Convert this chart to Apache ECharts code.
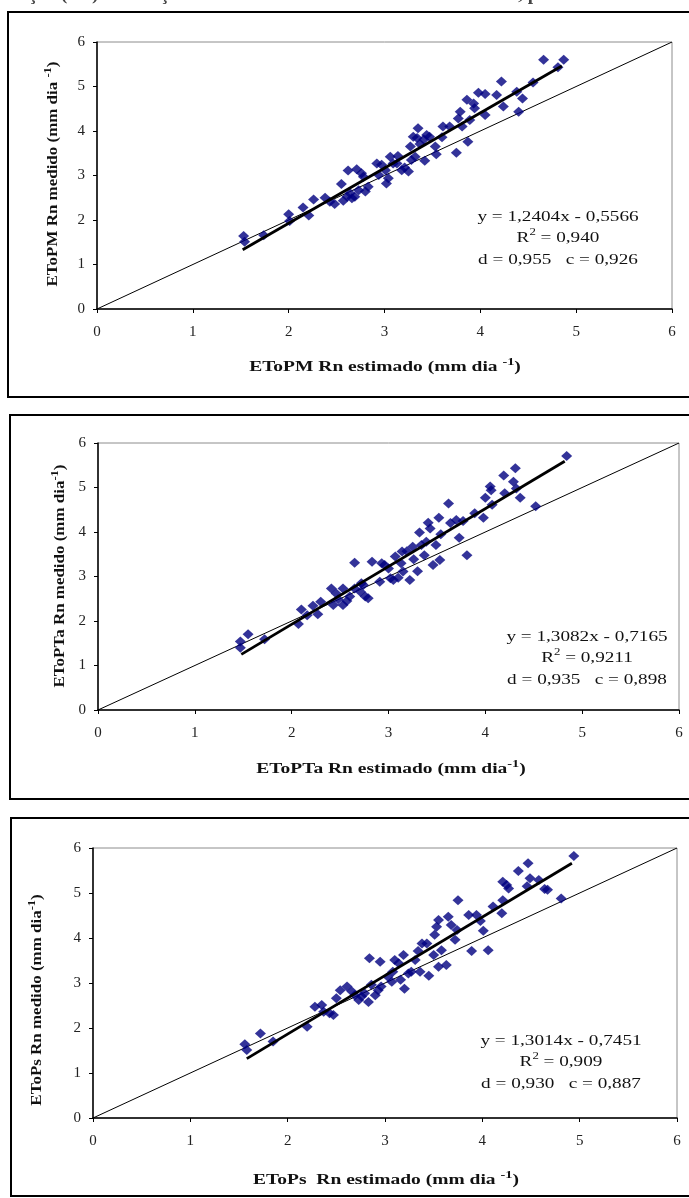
<!DOCTYPE html>
<html>
<head>
<meta charset="utf-8">
<script src="https://cdn.jsdelivr.net/npm/echarts@6/dist/echarts.min.js"></script>
<style>
  html, body { margin: 0; padding: 0; background: #fff; }
  #chart { width: 689px; height: 1198px; }
</style>
</head>
<body>
<div id="chart"></div>
<script>
// ETo PM Rn: estimado (x) x medido (y)
const pmEst = [1.53, 1.54, 1.74, 2.00, 2.01, 2.15, 2.21, 2.26, 2.38, 2.43, 2.48, 2.55, 2.57, 2.61, 2.62, 2.64, 2.69, 2.71, 2.73, 2.76,
  2.78, 2.80, 2.83, 2.92, 2.94, 3.01, 3.02, 3.04, 3.06, 3.09, 3.14, 3.18, 3.21, 3.25, 3.27, 3.28, 3.30, 3.32, 3.34, 3.35,
  3.37, 3.41, 3.42, 3.44, 3.53, 3.54, 3.60, 3.61, 3.75, 3.77, 3.79, 3.81, 3.86, 3.87, 3.89, 3.93, 3.94, 3.98, 4.05, 4.05,
  4.17, 4.22, 4.24, 4.38, 4.40, 4.44, 4.55, 4.66, 4.81, 4.87, 2.66, 2.97, 3.13, 3.47, 3.68];
const pmMed = [1.64, 1.51, 1.66, 2.13, 1.98, 2.28, 2.10, 2.46, 2.50, 2.41, 2.36, 2.81, 2.43, 2.52, 3.11, 2.60, 2.52, 3.14, 2.67, 3.05,
  2.97, 2.64, 2.75, 3.27, 3.01, 3.12, 2.82, 2.94, 3.42, 3.27, 3.44, 3.12, 3.18, 3.09, 3.65, 3.35, 3.87, 3.42, 3.84, 4.06,
  3.71, 3.81, 3.33, 3.91, 3.65, 3.48, 3.86, 4.10, 3.51, 4.28, 4.43, 4.10, 4.70, 3.76, 4.25, 4.62, 4.51, 4.86, 4.83, 4.36,
  4.81, 5.11, 4.55, 4.88, 4.43, 4.73, 5.09, 5.60, 5.43, 5.60, 2.49, 3.24, 3.27, 3.87, 4.10];
const pmTrend = [[1.52, 1.33], [4.85, 5.46]];

// ETo PTa Rn
const ptaEst = [1.47, 1.47, 1.55, 1.72, 2.07, 2.10, 2.16, 2.22, 2.27, 2.30, 2.41, 2.43, 2.46, 2.48, 2.53, 2.57, 2.60, 2.65, 2.65, 2.71,
  2.74, 2.76, 2.79, 2.83, 2.91, 2.93, 2.96, 3.00, 3.02, 3.05, 3.07, 3.10, 3.13, 3.14, 3.19, 3.22, 3.25, 3.26, 3.30, 3.32,
  3.34, 3.37, 3.41, 3.43, 3.46, 3.49, 3.52, 3.53, 3.54, 3.62, 3.64, 3.70, 3.73, 3.77, 3.81, 3.89, 3.98, 4.00, 4.05, 4.06,
  4.07, 4.19, 4.20, 4.29, 4.31, 4.32, 4.36, 4.52, 4.84, 2.53, 2.72, 3.15, 3.39];
const ptaMed = [1.54, 1.40, 1.70, 1.59, 1.93, 2.26, 2.13, 2.34, 2.15, 2.43, 2.73, 2.36, 2.62, 2.49, 2.36, 2.45, 2.55, 3.31, 2.73, 2.66,
  2.81, 2.55, 2.51, 3.33, 2.88, 3.30, 3.26, 3.18, 2.96, 2.92, 3.45, 2.97, 3.30, 3.56, 3.57, 2.92, 3.67, 3.39, 3.12, 3.99,
  3.71, 3.48, 4.21, 4.08, 3.26, 3.71, 4.32, 3.37, 3.95, 4.64, 4.20, 4.27, 3.87, 4.25, 3.48, 4.42, 4.32, 4.77, 5.02, 4.94,
  4.61, 5.27, 4.87, 5.13, 5.43, 4.98, 4.77, 4.58, 5.71, 2.73, 2.85, 3.11, 3.78];
const ptaTrend = [[1.48, 1.25], [4.82, 5.59]];

// ETo Ps Rn
const psEst = [1.56, 1.58, 1.72, 1.85, 2.20, 2.28, 2.35, 2.37, 2.43, 2.47, 2.50, 2.54, 2.61, 2.66, 2.69, 2.73, 2.76, 2.79, 2.83, 2.84,
  2.86, 2.90, 2.93, 2.95, 2.96, 3.03, 3.07, 3.10, 3.14, 3.16, 3.19, 3.20, 3.24, 3.27, 3.31, 3.34, 3.36, 3.38, 3.43, 3.45,
  3.50, 3.51, 3.53, 3.55, 3.55, 3.58, 3.63, 3.65, 3.68, 3.72, 3.75, 3.74, 3.86, 3.89, 3.94, 3.98, 4.01, 4.06, 4.11, 4.20,
  4.21, 4.21, 4.25, 4.27, 4.37, 4.46, 4.47, 4.49, 4.58, 4.64, 4.67, 4.81, 4.94, 3.08];
const psMed = [1.64, 1.51, 1.88, 1.70, 2.03, 2.47, 2.51, 2.36, 2.33, 2.29, 2.66, 2.84, 2.92, 2.81, 2.73, 2.62, 2.70, 2.77, 2.58, 3.55,
  2.96, 2.73, 2.84, 3.47, 2.92, 3.14, 3.03, 3.51, 3.44, 3.07, 3.62, 2.87, 3.21, 3.25, 3.51, 3.71, 3.25, 3.88, 3.88, 3.16,
  3.62, 4.07, 4.25, 4.40, 3.36, 3.73, 3.40, 4.47, 4.29, 3.96, 4.84, 4.18, 4.51, 3.71, 4.51, 4.38, 4.16, 3.73, 4.70, 4.55,
  4.84, 5.25, 5.18, 5.10, 5.49, 5.15, 5.66, 5.33, 5.29, 5.09, 5.07, 4.88, 5.82, 3.25];
const psTrend = [[1.58, 1.32], [4.92, 5.66]];

const oneToOne = [[0, 0], [6, 6]];
const axisTicks = [0, 1, 2, 3, 4, 5, 6];

const panels = [
  { est: pmEst, med: pmMed, trend: pmTrend,
    xName: 'EToPM Rn estimado (mm dia {sup|-1})', yName: 'EToPM Rn medido (mm dia {sup|-1})',
    eq: ['y = 1,2404x - 0,5566', 'R{sup|2} = 0,940', 'd = 0,955   c = 0,926'] },
  { est: ptaEst, med: ptaMed, trend: ptaTrend,
    xName: 'EToPTa Rn estimado (mm dia{sup|-1})', yName: 'EToPTa Rn medido (mm dia{sup|-1})',
    eq: ['y = 1,3082x - 0,7165', 'R{sup|2} = 0,9211', 'd = 0,935   c = 0,898'] },
  { est: psEst, med: psMed, trend: psTrend,
    xName: 'EToPs  Rn estimado (mm dia {sup|-1})', yName: 'EToPs Rn medido (mm dia{sup|-1})',
    eq: ['y = 1,3014x - 0,7451', 'R{sup|2} = 0,909', 'd = 0,930   c = 0,887'] }
];

const grids = [
  { left: 97, top: 42, width: 575, height: 267 },
  { left: 98, top: 443, width: 581, height: 267 },
  { left: 93, top: 848, width: 584, height: 270 }
];
const boxes = [
  { x: 8, y: 12, w: 700, h: 385 },
  { x: 10, y: 415, w: 700, h: 384 },
  { x: 11, y: 818, w: 700, h: 378 }
];
// title / annotation anchor points (centre)
const xTitlePos = [[385, 367], [391, 769], [386, 1180]];
const yTitlePos = [[53, 174], [60, 576], [37, 1000]];
const eqPos = [[558, 206], [587, 626], [561, 1030]];

const font = "'Liberation Serif', 'Times New Roman', serif";
const supBold = { fontSize: 11, fontWeight: 'bold', fontFamily: font, fill: '#111', verticalAlign: 'top', lineHeight: 11 };

const option = {
  animation: false,
  grid: grids.map(g => Object.assign({ show: true, borderColor: '#8c8c8c', borderWidth: 1, backgroundColor: '#fff' }, g)),
  xAxis: grids.map((g, i) => ({
    gridIndex: i, type: 'value', min: 0, max: 6, interval: 1,
    axisLine: { show: true, lineStyle: { color: '#000', width: 1.5 } },
    axisTick: { show: true, inside: false, length: 4, lineStyle: { color: '#000' } },
    axisLabel: { fontFamily: font, fontSize: 15, color: '#222', margin: 16,
      formatter: v => axisTicks.indexOf(v) >= 0 ? String(v) : '' },
    splitLine: { show: false }
  })),
  yAxis: grids.map((g, i) => ({
    gridIndex: i, type: 'value', min: 0, max: 6, interval: 1,
    axisLine: { show: true, lineStyle: { color: '#000', width: 1.5 } },
    axisTick: { show: true, inside: false, length: 4, lineStyle: { color: '#000' } },
    axisLabel: { fontFamily: font, fontSize: 15, color: '#222', margin: 12,
      formatter: v => axisTicks.indexOf(v) >= 0 ? String(v) : '' },
    splitLine: { show: false }
  })),
  series: [],
  graphic: []
};

panels.forEach((p, i) => {
  option.series.push({
    type: 'line', xAxisIndex: i, yAxisIndex: i, data: oneToOne, showSymbol: false, silent: true,
    lineStyle: { color: '#000', width: 1 }, z: 2
  });
  option.series.push({
    type: 'scatter', xAxisIndex: i, yAxisIndex: i, symbol: 'diamond', symbolSize: [11, 10],
    itemStyle: { color: '#000080' }, data: p.est.map((x, k) => [x, p.med[k]]), z: 3
  });
  option.series.push({
    type: 'line', xAxisIndex: i, yAxisIndex: i, data: p.trend, showSymbol: false, silent: true,
    lineStyle: { color: '#000', width: 2.8 }, z: 4
  });
  const b = boxes[i];
  option.graphic.push({
    type: 'rect', shape: { x: b.x, y: b.y, width: b.w, height: b.h }, silent: true, z: -1,
    style: { fill: 'none', stroke: '#000', lineWidth: 2 }
  });
  // x axis title (horizontally stretched like the source)
  option.graphic.push({
    type: 'text', x: xTitlePos[i][0], y: xTitlePos[i][1], scaleX: 1.3, z: 10,
    style: {
      text: p.xName, fontFamily: font, fontSize: 15, fontWeight: 'bold', fill: '#111',
      align: 'center', verticalAlign: 'middle', lineHeight: 20, rich: { sup: supBold }
    }
  });
  // y axis title
  option.graphic.push({
    type: 'text', x: yTitlePos[i][0], y: yTitlePos[i][1], rotation: Math.PI / 2, scaleX: 1.13, z: 10,
    style: {
      text: p.yName, fontFamily: font, fontSize: 15, fontWeight: 'bold', fill: '#111',
      align: 'center', verticalAlign: 'middle', lineHeight: 20, rich: { sup: supBold }
    }
  });
  option.graphic.push({
    type: 'text', x: eqPos[i][0], y: eqPos[i][1], scaleX: 1.28, z: 10,
    style: {
      text: p.eq.join('\n'), fontFamily: font, fontSize: 15, lineHeight: 21.5, fill: '#111',
      align: 'center', verticalAlign: 'top',
      rich: { sup: { fontSize: 10, fontFamily: font, fill: '#111', verticalAlign: 'top', lineHeight: 12 } }
    }
  });
});

// cropped caption line at the top of the page (only its lower edge shows)
option.graphic.push({
  type: 'text', x: -4, y: -12, scaleX: 1.2,
  style: { text: '...ração (Rn) em função dos valores estimados e medidos de ETo, pelo método de referência', fontFamily: font, fontSize: 16, fontWeight: 'bold', fill: '#444' }
});

const chart = echarts.init(document.getElementById('chart'));
chart.setOption(option);
</script>
</body>
</html>
